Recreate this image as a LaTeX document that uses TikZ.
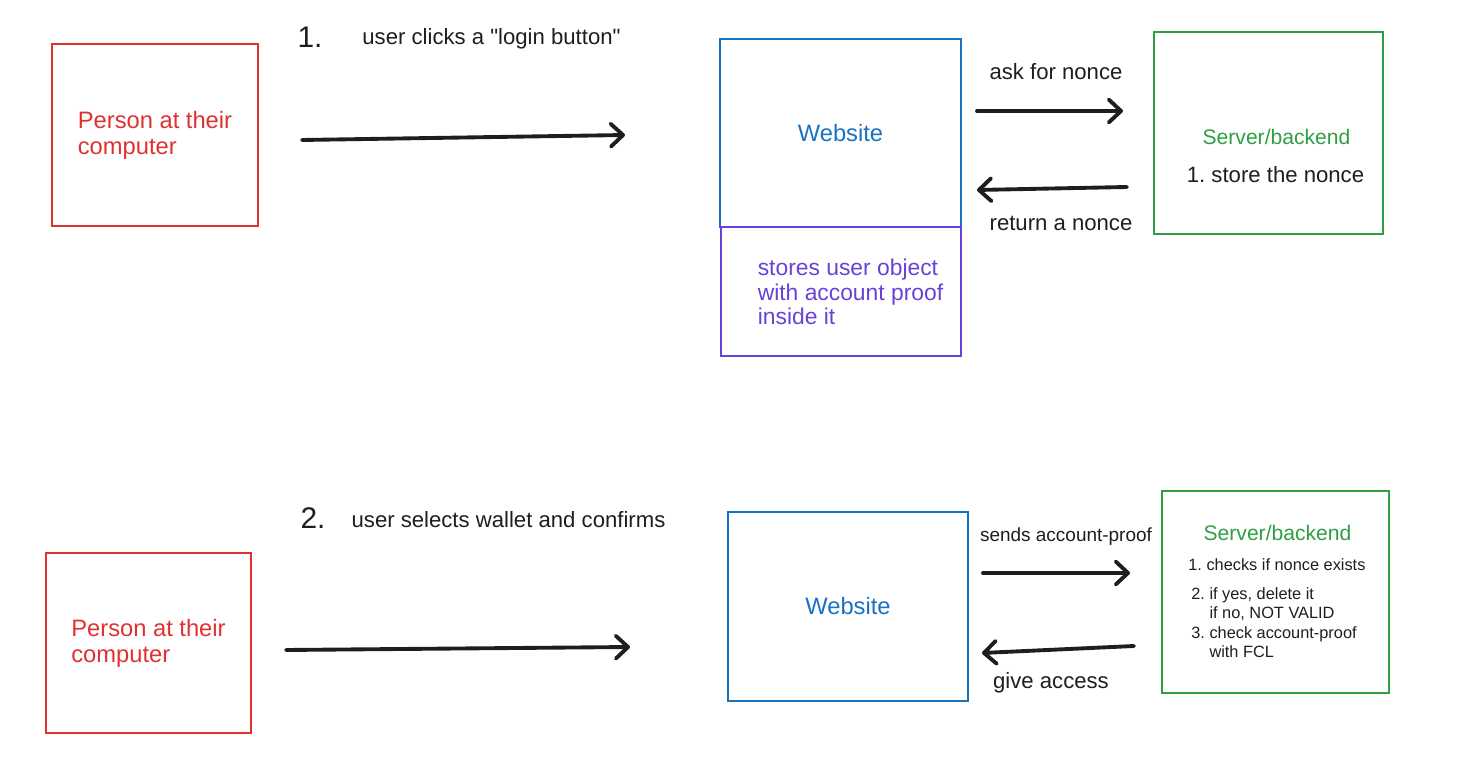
\documentclass[tikz,border=0pt]{standalone}
\usepackage{fontspec}
\setmainfont{Liberation Sans}[Ligatures=TeXOff]
\usetikzlibrary{arrows.meta}
\definecolor{ink}{HTML}{1E1E1E}
\definecolor{exred}{HTML}{E03131}
\definecolor{exblue}{HTML}{1971C2}
\definecolor{exgreen}{HTML}{2F9E44}
\definecolor{expurple}{HTML}{6741D9}
\frenchspacing
\begin{document}
\begin{tikzpicture}[x=0.02cm,y=-0.02cm,
	box/.style={draw,line width=0.9pt,inner sep=0pt,align=left,font=\fontsize{13.5}{14.7}\selectfont},
	txt/.style={inner sep=0pt,text=ink,font=\fontsize{12.6}{14.7}\selectfont},
	small/.style={inner sep=0pt,text=ink,align=left,anchor=west,font=\fontsize{9.3}{10.8}\selectfont},
	big/.style={inner sep=0pt,text=ink,font=\fontsize{17}{20}\selectfont},
	arr/.style={ink,line width=2.2pt,line cap=round,-{Straight Barb[length=7pt,width=13pt,round]}}]
	\useasboundingbox (0,0) rectangle (1461,763);

	\node[box,exred,minimum width=4.12cm,minimum height=3.64cm] at (155,135) (person1) {Person at their\\computer};
	\node[box,exblue,minimum width=4.82cm,minimum height=3.76cm] at (840.5,133) (web1) {Website};
	\node[box,expurple,minimum width=4.8cm,minimum height=2.58cm] at (841,291.5) (store1) {};
	\node[txt,text=expurple,align=left,font=\fontsize{13}{13.9}\selectfont] at (850.5,292) (storetxt) {stores user object\\with account proof\\inside it};
	\node[box,exgreen,minimum width=4.58cm,minimum height=4.04cm] at (1268.5,133) (server1) {};
	\node[txt,text=exgreen,font=\fontsize{12}{14}\selectfont] at (1276.5,137) (title1) {Server/backend};
	\node[txt] at (1275.5,175) (note1) {1. store the nonce};

	\node[big] at (310,37) (step1) {1.};
	\node[txt] at (491.5,39) (click) {user clicks a "login button"};
	\node[txt] at (1056,72) (ask) {ask for nonce};
	\node[txt] at (1061,223) (return) {return a nonce};

	\coordinate (a1s) at (302,140);
	\coordinate (a1e) at (625,135);
	\coordinate (asks) at (977,111);
	\coordinate (aske) at (1123,111);
	\coordinate (rets) at (1127,187);
	\coordinate (rete) at (977,190);
	\draw[arr] (a1s) -- (a1e);
	\draw[arr] (asks) -- (aske);
	\draw[arr] (rets) -- (rete);

	\node[box,exred,minimum width=4.1cm,minimum height=3.6cm] at (148.5,643) (person2) {Person at their\\computer};
	\node[box,exblue,minimum width=4.8cm,minimum height=3.78cm] at (848,606.5) (web2) {Website};
	\node[box,exgreen,minimum width=4.54cm,minimum height=4.04cm] at (1275.5,592) (server2) {};
	\node[txt,text=exgreen,font=\fontsize{12}{14}\selectfont] at (1277.5,533) (title2) {Server/backend};
	\node[small] at (1188,565) (check1) {1. checks if nonce exists};
	\node[small] at (1191,604) (check2) {2. if yes, delete it\\\phantom{2. }if no, NOT VALID};
	\node[small] at (1191,642.5) (check3) {3. check account-proof\\\phantom{3. }with FCL};

	\node[big] at (313,518) (step2) {2.};
	\node[txt] at (508.5,520) (select) {user selects wallet and confirms};
	\node[txt,font=\fontsize{10.8}{13}\selectfont] at (1066,537) (sendtxt) {sends account-proof};
	\node[txt] at (1051,683) (give) {give access};

	\coordinate (a2s) at (286,650);
	\coordinate (a2e) at (630,647);
	\coordinate (sends) at (983,573);
	\coordinate (sende) at (1130,573);
	\coordinate (gives) at (1134,646);
	\coordinate (givee) at (982,653);
	\draw[arr] (a2s) -- (a2e);
	\draw[arr] (sends) -- (sende);
	\draw[arr] (gives) -- (givee);
\end{tikzpicture}
\end{document}
